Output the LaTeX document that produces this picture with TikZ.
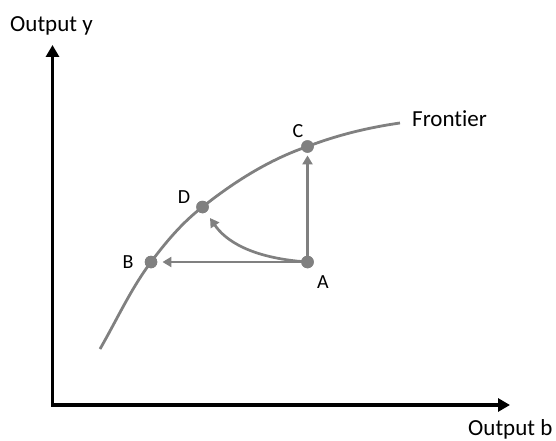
\documentclass[tikz,border=0pt]{standalone}
\usepackage{fontspec}
\setmainfont[Ligatures=NoCommon]{Carlito}
\usetikzlibrary{arrows.meta}
\definecolor{fgray}{RGB}{128,128,128}
\tikzset{
  axis/.style={line width=3.3pt, {Triangle[length=12pt,width=13pt]}-{Triangle[length=12pt,width=13pt]}},
  front/.style={fgray, line width=2.8pt},
  move/.style={fgray, line width=2.7pt, -{Triangle[length=9pt,width=10pt]}},
  dot/.style={circle, fill=fgray, inner sep=0pt, minimum size=12.5pt},
  biglbl/.style={inner sep=0pt, font=\fontsize{23}{27}\selectfont},
  ptlbl/.style={inner sep=0pt, font=\fontsize{20}{24}\selectfont, anchor=base}
}
\begin{document}
\begin{tikzpicture}[x=1pt,y=-1pt]
\useasboundingbox (0,0) rectangle (556,441);
% axes
\coordinate (ytip) at (52.5,45);
\coordinate (orig) at (52.5,405);
\coordinate (xtip) at (510,405);
\draw[axis] (ytip) -- (orig) -- (xtip);
\node[biglbl, anchor=base west] (ylab) at (10,32) {Output y};
\node[biglbl, anchor=base west] (xlab) at (468,435) {Output b};
% points
\node[dot] (A) at (307.5,262) {};
\node[dot] (B) at (151,262) {};
\node[dot] (C) at (307.5,146.5) {};
\node[dot] (D) at (202.5,207) {};
\coordinate (F0) at (100,349);
\coordinate (F1) at (400,123);
% frontier
\draw[front] (F0) .. controls (116.8,319.9) and (130.8,288.9) .. (B.center)
  .. controls (166,242) and (182.25,222.5) .. (D.center)
  .. controls (233.9,182) and (269,159.7) .. (C.center)
  .. controls (337.1,135.1) and (368.3,127.5) .. (F1);
\node[biglbl, anchor=base west] (flab) at (412,126) {Frontier};
% redraw dots on top
\node[dot] at (A) {};
\node[dot] at (B) {};
\node[dot] at (C) {};
\node[dot] at (D) {};
\node[ptlbl] (Al) at (323,288) {A};
\node[ptlbl] (Bl) at (128,268) {B};
\node[ptlbl] (Cl) at (298,137) {C};
\node[ptlbl] (Dl) at (184,203) {D};
% moves
\draw[move, shorten >=5pt] (A.center) -- (B);
\draw[move, shorten >=2.5pt] (A.center) -- (C);
\draw[move] (A.center) .. controls (250,258) and (225,240) .. (210,218);
\end{tikzpicture}
\end{document}
